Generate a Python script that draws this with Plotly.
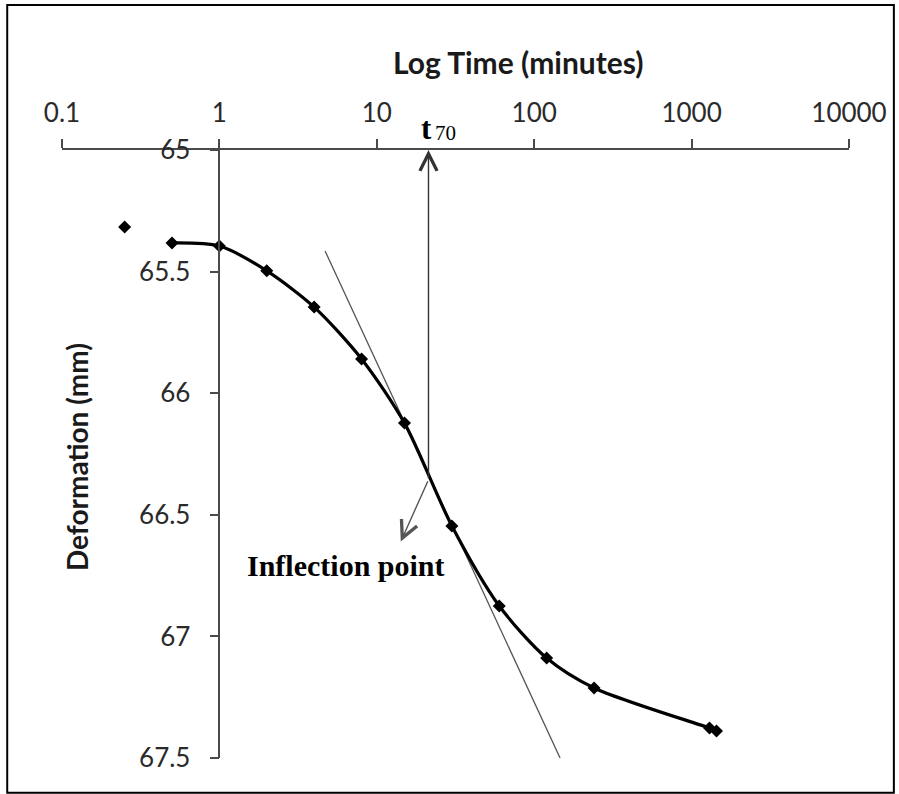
import math
import plotly.graph_objects as go

# ---- data ----
time_min = [0.25, 0.5, 1, 2, 4, 8, 15, 30, 60, 120, 240, 1300, 1440]
deformation = [65.317, 65.382, 65.395, 65.497, 65.646, 65.859, 66.123, 66.546,
               66.875, 67.089, 67.212, 67.377, 67.389]
tangent_x = [4.69, 146]
tangent_y = [65.415, 67.5]
t70 = 21.3
t70_arrow_end = 66.356
inflection_tip = (14.2, 66.61)
x_ticks = [0.1, 1, 10, 100, 1000, 10000]
x_ticklabels = ["0.1", "1", "10", "100", "1000", "10000"]
y_ticks = [65, 65.5, 66, 66.5, 67, 67.5]
y_ticklabels = ["65", "65.5", "66", "66.5", "67", "67.5"]

SANS = "Lato, 'Open Sans', sans-serif"
SERIF = "'Liberation Serif', 'DejaVu Serif', serif"
TICKFONT = dict(family=SANS, size=26, color="#2a2a2a")

fig = go.Figure()

# tangent line
fig.add_trace(go.Scatter(x=tangent_x, y=tangent_y, mode="lines",
                         line=dict(color="#555555", width=1.3),
                         showlegend=False, hoverinfo="skip"))
# first isolated point
fig.add_trace(go.Scatter(x=time_min[:1], y=deformation[:1], mode="markers",
                         marker=dict(symbol="diamond", size=10, color="black"),
                         showlegend=False))
# main curve
fig.add_trace(go.Scatter(x=time_min[1:], y=deformation[1:], mode="lines+markers",
                         line=dict(color="black", width=3.2, shape="spline", smoothing=0.8),
                         marker=dict(symbol="diamond", size=10, color="black"),
                         showlegend=False))

fig.update_xaxes(type="log", range=[-1, 4], side="top", anchor="y",
                 tickvals=x_ticks, ticktext=x_ticklabels, tickfont=TICKFONT,
                 ticklabelstandoff=7,
                 showline=True, linecolor="#4a4a4a", linewidth=1.5,
                 ticks="outside", ticklen=9, tickwidth=1.5, tickcolor="#4a4a4a",
                 showgrid=False, zeroline=False, domain=[0, 1])
fig.update_yaxes(range=[67.5, 65], anchor="free", position=0.2,
                 tickvals=y_ticks, ticktext=y_ticklabels, tickfont=TICKFONT,
                 ticklabelstandoff=14,
                 showline=True, linecolor="#4a4a4a", linewidth=1.5,
                 ticks="outside", ticklen=9, tickwidth=1.5, tickcolor="#4a4a4a",
                 showgrid=False, zeroline=False)

annotations = [
    dict(text="<b>Log Time (minutes)</b>", xref="paper", yref="paper",
         x=0.58, y=1.1447, xanchor="center", yanchor="middle", showarrow=False,
         font=dict(family=SANS, size=30, color="#1a1a1a")),
    dict(text="<b>Deformation (mm)</b>", xref="paper", yref="paper",
         x=0.019, y=0.495, xanchor="center", yanchor="middle", showarrow=False,
         textangle=-90, font=dict(family=SANS, size=28, color="#1a1a1a")),
    dict(text="<b>t</b>", xref="paper", yref="paper",
         x=(428 - 62) / 790, y=(758 - 128) / 608, xanchor="center", yanchor="middle",
         showarrow=False, font=dict(family=SERIF, size=31, color="black")),
    dict(text="70", xref="paper", yref="paper",
         x=(447 - 62) / 790, y=(758 - 133) / 608, xanchor="center", yanchor="middle",
         showarrow=False, font=dict(family=SERIF, size=21, color="black")),
    dict(text="<b>Inflection point</b>", xref="x", yref="y",
         x=math.log10(6.37), y=66.71, xanchor="center", yanchor="middle", showarrow=False,
         font=dict(family=SERIF, size=30, color="black")),
    # vertical arrow to t70
    dict(text="", xref="x", yref="y", axref="x", ayref="y",
         x=math.log10(t70), y=65.0, ax=math.log10(t70), ay=t70_arrow_end,
         showarrow=True, arrowhead=5, arrowsize=2.4, arrowwidth=1.4, arrowcolor="#333333"),
    # arrow to inflection label
    dict(text="", xref="x", yref="y", axref="x", ayref="y",
         x=math.log10(inflection_tip[0]), y=inflection_tip[1],
         ax=math.log10(t70), ay=t70_arrow_end,
         showarrow=True, arrowhead=5, arrowsize=2.4, arrowwidth=1.4, arrowcolor="#555555"),
]

fig.update_layout(
    width=899, height=794,
    margin=dict(l=62, r=47, t=150, b=36),
    paper_bgcolor="white", plot_bgcolor="white",
    annotations=annotations,
    shapes=[dict(type="rect", xref="paper", yref="paper",
                 x0=-0.0696, x1=1.057, y0=-0.057, y1=1.2385,
                 line=dict(color="black", width=2))],
)

fig.write_html("out.html")
